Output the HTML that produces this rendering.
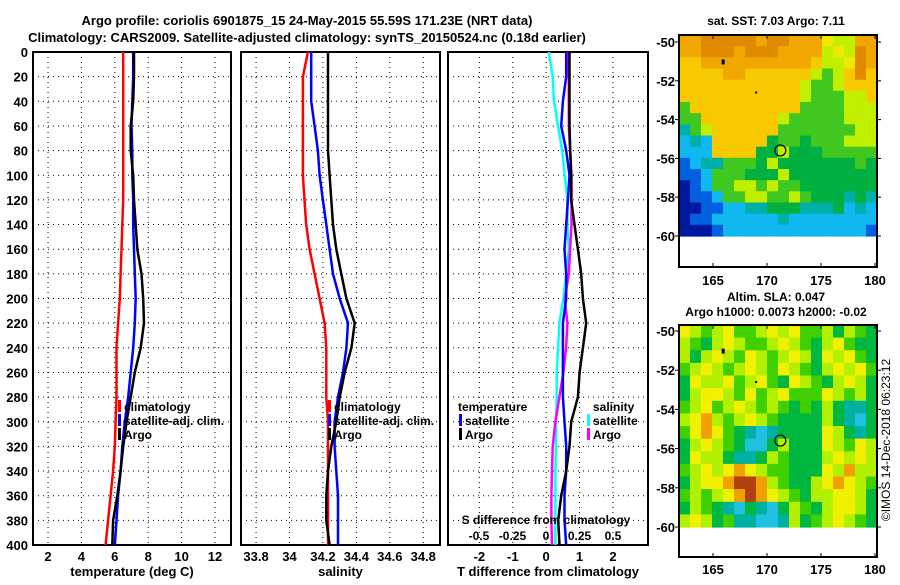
<!DOCTYPE html>
<html><head><meta charset="utf-8"><style>
body{margin:0;background:#fff}
svg text{font-family:"Liberation Sans",sans-serif;font-weight:bold;fill:#000}
</style></head><body>
<svg id="c" width="900" height="580" xmlns="http://www.w3.org/2000/svg">
<text x="307" y="25" font-size="13" text-anchor="middle">Argo profile: coriolis 6901875_15 24-May-2015 55.59S 171.23E (NRT data)</text>
<text x="307" y="42" font-size="13" text-anchor="middle">Climatology: CARS2009. Satellite-adjusted climatology: synTS_20150524.nc (0.18d earlier)</text>
<text x="776" y="25" font-size="12" text-anchor="middle">sat. SST: 7.03 Argo: 7.11</text>
<text x="776" y="301" font-size="12" text-anchor="middle">Altim. SLA: 0.047</text>
<text x="776" y="316" font-size="12" text-anchor="middle">Argo h1000: 0.0073 h2000: -0.02</text>
<text transform="translate(890,440) rotate(-90)" font-size="12" text-anchor="middle" style="font-weight:normal">©IMOS 14-Dec-2018 06:23:12</text>
</svg>
<script>
const depths=[0,20,40,60,80,100,120,140,160,180,200,220,240,260,280,300,320,340,360,380,400];
const tClim=[6.5,6.5,6.5,6.5,6.5,6.5,6.5,6.45,6.4,6.35,6.3,6.2,6.1,6.1,6.1,6.05,6.0,5.9,5.75,5.6,5.45];
const tSat=[7.1,7.1,7.05,7.0,7.05,7.05,7.1,7.1,7.15,7.2,7.25,7.2,7.1,6.95,6.8,6.6,6.45,6.35,6.2,6.1,6.0];
const tArgo=[7.15,7.15,7.1,6.95,6.95,7.1,7.15,7.25,7.35,7.6,7.7,7.75,7.55,7.2,6.95,6.7,6.5,6.35,6.15,5.9,5.85];
const sClim=[34.11,34.08,34.08,34.08,34.08,34.08,34.09,34.10,34.12,34.15,34.18,34.21,34.22,34.22,34.22,34.23,34.23,34.23,34.23,34.23,34.23];
const sSat=[34.13,34.13,34.13,34.15,34.17,34.18,34.20,34.22,34.24,34.26,34.30,34.35,34.34,34.32,34.29,34.27,34.27,34.28,34.29,34.29,34.29];
const sArgo=[34.23,34.23,34.23,34.23,34.23,34.24,34.25,34.26,34.28,34.31,34.34,34.39,34.37,34.33,34.30,34.28,34.25,34.23,34.22,34.22,34.24];
const dTSat=[0.6,0.6,0.5,0.45,0.6,0.7,0.65,0.6,0.55,0.6,0.6,0.5,0.5,0.5,0.5,0.55,0.6,0.6,0.55,0.55,0.6];
const dTArgo=[0.7,0.7,0.7,0.7,0.72,0.75,0.75,0.85,0.95,1.05,1.1,1.2,1.1,1.0,0.95,0.75,0.7,0.6,0.45,0.36,0.4];
const dSSat=[0.02,0.05,0.06,0.09,0.12,0.14,0.16,0.16,0.17,0.15,0.13,0.1,0.09,0.08,0.08,0.075,0.075,0.07,0.07,0.07,0.07];
const dSArgo=[0.16,0.17,0.17,0.17,0.18,0.19,0.19,0.19,0.18,0.17,0.14,0.16,0.15,0.13,0.10,0.07,0.05,0.045,0.04,0.04,0.045];
const depthTicks=[0,20,40,60,80,100,120,140,160,180,200,220,240,260,280,300,320,340,360,380,400];
const tTicks=[2,4,6,8,10,12];
const sTicks=[33.8,34,34.2,34.4,34.6,34.8];
const sTickLabels=["33.8","34","34.2","34.4","34.6","34.8"];
const dTTicks=[-2,-1,0,1,2];
const dSTicks=[-0.5,-0.25,0,0.25,0.5];
const dSTickLabels=["-0.5","-0.25","0","0.25","0.5"];
const lonTicks=[165,170,175,180];
const latTicks=[-50,-52,-54,-56,-58,-60];
const argoLon=171.23, argoLat=-55.59;
const sstRows=["ooOOOOOoOOoooyLLoo","ooOOOoOOOooooLyLOo","YYooooooooooYLLyOo","YYYYooYYYYYYLGLYOY","YYYYYYYYYYYLGGLYYY","YYYYYYYYYYYLGGGLLY","GYYYYYYYYYYGGGGLLL","GGYYYYYYYLGGGGGLLL","TGLYYYYYYGGGGGGGLL","CTCYYYYYgGGgGGGLLL","CCCYYYYggLgggGGGGG","BCTTGGGgLgggggggGg","BBCGGGgggLgggggggg","DBCGGLLGLGGggggggg","DBBCGGLLGGLGgggTgT","DDBBCCTTgggTTTgCTC","DBBCCCCCCTCCCCCCCC","DDDBCCCCCCCCCCCCCB"];
const slaRows=["yLGLyGGLyLyGGLgLGg","LGgLyLGGLyLGgLyGgg","LgLyLGyLGLyLgyLyGg","GLyLGLyLGyLGgLyLyG","gyLLyGLyGgyLGgLyLg","gLyyLGyGLyGGGyLGLg","GLyGLyLGLGgGgLgTTg","LyoLGLyLGggggLgTCg","GyoyGgTCTggggyLgTg","gLyLGgCCgLgggyLGyL","gyLLgTTgLGgggLyLyL","GLyLyoyLGGgggyLoLL","gLyyoRRoLGggLyoyLG","GLGLyoRoyLGgLLyyLg","gLGgTCgTCgLGgLyyLg","LyLgGTTCCTLgGLyLGg"];
const sstPal={O:"#e08a00",o:"#f0a800",Y:"#f8c800",y:"#f0e800",L:"#c0f000",G:"#40c820",g:"#00b040",T:"#00b0a8",C:"#10b8f0",B:"#0060e0",D:"#0018a0"};
const slaPal={y:"#f0f000",L:"#b0f000",G:"#40d000",g:"#00b840",T:"#00b0a0",C:"#20c0e0",o:"#f0a000",R:"#b04010"};

const svg=document.getElementById('c');
const NS="http://www.w3.org/2000/svg";
function mk(tag,attrs,parent){const e=document.createElementNS(NS,tag);for(const k in attrs)e.setAttribute(k,attrs[k]);(parent||svg).appendChild(e);return e;}
function txt(x,y,s,size,anchor,parent){const t=mk('text',{x:x,y:y,'font-size':size,'text-anchor':anchor||'middle'},parent);t.textContent=s;return t;}

const TOP=52,BOT=545;
function yD(d){return TOP+(BOT-TOP)*d/400;}

function panel(name,x0,x1,vmin,vmax,xt,xtl,xlabel,showY){
  const g=mk('g',{});
  
  
  const sx=v=>x0+(x1-x0)*(v-vmin)/(vmax-vmin);
  depthTicks.forEach(d=>{
    const l=mk('line',{x1:x0,x2:x1,y1:yD(d),y2:yD(d),stroke:'#000','stroke-width':1,'stroke-dasharray':'1,4'},g);
    
    
    if(showY){const t=txt(x0-5,yD(d)+5,String(d),13,'end',g);
      
      }
  });
  xt.forEach((v,i)=>{
    const l=mk('line',{x1:sx(v),x2:sx(v),y1:TOP,y2:BOT,stroke:'#000','stroke-width':1,'stroke-dasharray':'1,4'},g);
    
    
    if(xtl){const t=txt(sx(v),561,xtl[i],13,'middle',g);
      
      }
  });
  const r=mk('rect',{x:x0,y:TOP,width:x1-x0,height:BOT-TOP,fill:'none',stroke:'#000','stroke-width':2},g);
  
  
  const t=txt((x0+x1)/2,576,xlabel,13,'middle',g);
  
  
  return {g,sx};
}
function line(g,vals,sx,color,name){
  const pts=vals.map((v,i)=>sx(v).toFixed(1)+','+yD(depths[i]).toFixed(1)).join(' ');
  const p=mk('polyline',{points:pts,fill:'none',stroke:color,'stroke-width':2.5},g);
  
  
}
function legend(g,x,y,color,label,name){
  const r=mk('rect',{x:x,y:y-11,width:3,height:12,fill:color},g);
  
  
  const t=txt(x+6,y,label,12,'start',g);
  
  
}

const p1=panel('temperature-panel',33,231,1.1,12.96,tTicks,tTicks.map(String),'temperature (deg C)',true);
line(p1.g,tClim,p1.sx,'#f00','temp-climatology-line');
line(p1.g,tSat,p1.sx,'#00f','temp-satellite-line');
line(p1.g,tArgo,p1.sx,'#000','temp-argo-line');
legend(p1.g,118,411,'#f00','climatology','legend-climatology');
legend(p1.g,118,425,'#00f','satellite-adj. clim.','legend-satellite');
legend(p1.g,118,439,'#000','Argo','legend-argo');

const p2=panel('salinity-panel',241,440,33.71,34.90,sTicks,sTickLabels,'salinity',false);
line(p2.g,sClim,p2.sx,'#f00','sal-climatology-line');
line(p2.g,sSat,p2.sx,'#00f','sal-satellite-line');
line(p2.g,sArgo,p2.sx,'#000','sal-argo-line');
legend(p2.g,328,411,'#f00','climatology','legend-climatology-2');
legend(p2.g,328,425,'#00f','satellite-adj. clim.','legend-satellite-2');
legend(p2.g,328,439,'#000','Argo','legend-argo-2');

const p3=panel('difference-panel',448,648,-2.94,3.05,dTTicks,dTTicks.map(String),'T difference from climatology',false);
const sxS=v=>546+v*134;
line(p3.g,dSSat,sxS,'#0ff','sdiff-satellite-line');
line(p3.g,dSArgo,sxS,'#f0f','sdiff-argo-line');
line(p3.g,dTSat,p3.sx,'#00f','tdiff-satellite-line');
line(p3.g,dTArgo,p3.sx,'#000','tdiff-argo-line');
{const t=txt(458,411,'temperature',12,'start',p3.g);}
legend(p3.g,459,425,'#00f','satellite','legend-t-satellite');
legend(p3.g,459,439,'#000','Argo','legend-t-argo');
{const t=txt(593,411,'salinity',12,'start',p3.g);}
legend(p3.g,587,425,'#0ff','satellite','legend-s-satellite');
legend(p3.g,587,439,'#f0f','Argo','legend-s-argo');
{const t=txt(546,524,'S difference from climatology',12,'middle',p3.g);}
dSTicks.forEach((v,i)=>{const t=txt(sxS(v),540,dSTickLabels[i],12,'middle',p3.g);
  
  });

function map(name,fTop,fBot,latTopPx,latM60Px,rows,pal,xlabY){
  const g=mk('g',{});
  
  
  const X0=679,X1=877;
  const lx=l=>X0+(l-161.85)*10.8;
  const ly=l=>latTopPx+(-50-l)*(latM60Px-latTopPx)/10;
  const nr=rows.length,nc=rows[0].length;
  const cw=(X1-X0)/nc,ch=(ly(-60)-fTop)/nr;
  rows.forEach((row,r)=>{for(let c=0;c<nc;c++){
    const rc=mk('rect',{x:(X0+c*cw).toFixed(1),y:(fTop+r*ch).toFixed(1),width:(cw+0.6).toFixed(1),height:(ch+0.6).toFixed(1),fill:pal[row[c]]},g);
    
    
  }});
  mk('rect',{x:lx(165.8),y:ly(-50.9),width:3,height:5,fill:'#000'},g);
  mk('rect',{x:lx(168.9),y:ly(-52.55),width:2,height:2,fill:'#000'},g);
  const ci=mk('circle',{cx:lx(argoLon),cy:ly(argoLat),r:5.5,fill:'none',stroke:'#000','stroke-width':1.2},g);
  
  
  const fr=mk('rect',{x:X0,y:fTop,width:X1-X0,height:fBot-fTop,fill:'none',stroke:'#000','stroke-width':2},g);
  
  
  lonTicks.forEach(l=>{
    mk('line',{x1:lx(l),x2:lx(l),y1:fTop,y2:fTop+4,stroke:'#000'},g);
    mk('line',{x1:lx(l),x2:lx(l),y1:fBot,y2:fBot-4,stroke:'#000'},g);
    const t=txt(lx(l),xlabY,String(l),13,'middle',g);
    
    
  });
  latTicks.forEach(l=>{
    mk('line',{x1:X0,x2:X0-4,y1:ly(l),y2:ly(l),stroke:'#000'},g);
    mk('line',{x1:X1,x2:X1+4,y1:ly(l),y2:ly(l),stroke:'#000'},g);
    const t=txt(X0-4,ly(l)+5,String(l),13,'end',g);
    
    
  });
}
map('sst-map',35,267,42,236,sstRows,sstPal,285);
map('sla-map',325,557,331,527,slaRows,slaPal,574);
</script>
</body></html>
